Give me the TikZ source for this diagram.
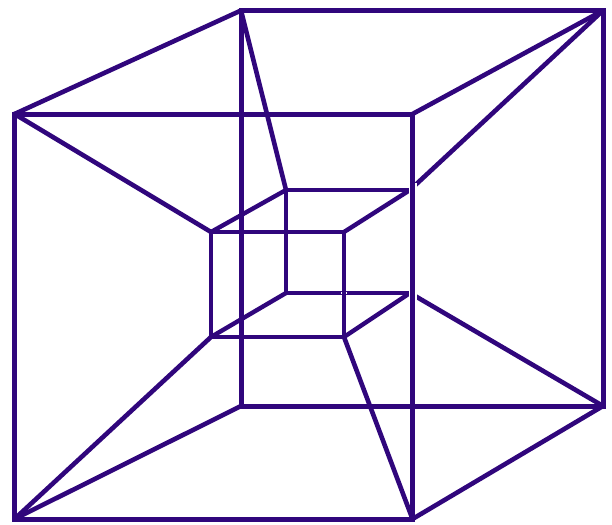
\documentclass[tikz,border=0pt]{standalone}
\definecolor{ink}{HTML}{30067C}
\tikzset{edge/.style={draw=ink,line width=5pt,line cap=round,line join=miter},
diag/.style={draw=ink,line width=4.6pt,line cap=round},
inner/.style={draw=ink,line width=4.4pt,line cap=butt,line join=miter},
thinline/.style={draw=ink,line width=3.4pt,line cap=butt},
gap/.style={draw=white,line width=1.2pt}}
\begin{document}
\begin{tikzpicture}[x=1pt,y=-1pt]
\useasboundingbox (0,0) rectangle (612,524);
\coordinate (A) at (14.5,114);
\coordinate (B) at (412.5,114);
\coordinate (C) at (412.5,519);
\coordinate (D) at (14.5,519);
\coordinate (E) at (241,10.5);
\coordinate (F) at (603,10.5);
\coordinate (G) at (603,406);
\coordinate (H) at (241,406);
\coordinate (a) at (211,232);
\coordinate (b) at (344,232);
\coordinate (c) at (344,337);
\coordinate (d) at (211,337);
\coordinate (e) at (286,190);
\coordinate (f) at (410,190);
\coordinate (g) at (410,293);
\coordinate (h) at (286,293);
\draw[edge] (E)--(F)--(G)--(H)--cycle;
\draw[diag] (A)--(E) (B)--(F) (C)--(G) (D)--(H);
\draw[diag] (A)--(a) (C)--(c) (D)--(d) (E)--(e) (F)--(f) (G)--(g);
\draw[thinline] (e)--(h);
\draw[inner] (e)--(f) (g)--(h);
\draw[inner] (a)--(e) (b)--(f) (c)--(g) (d)--(h);
\fill[white] (409,183) rectangle (416.5,300);
\draw[gap] (341,293) -- (347,293);
\draw[inner] (a)--(b)--(c)--(d)--cycle;
\draw[edge] (A)--(B)--(C)--(D)--cycle;
\end{tikzpicture}
\end{document}
